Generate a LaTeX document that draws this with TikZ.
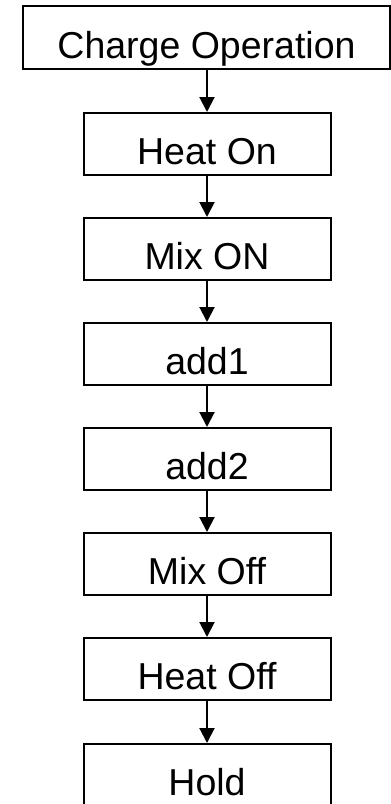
\documentclass[tikz,border=0pt]{standalone}
\usepackage{fontspec}
\setmainfont{Liberation Sans}
\usetikzlibrary{arrows.meta}
\begin{document}
\begin{tikzpicture}[x=1pt,y=-1pt,
  stepbox/.style={draw=black, line width=2pt, inner sep=0pt,
    minimum width=247pt, text height=51pt, text depth=11pt,
    font=\fontsize{37.5}{37.5}\selectfont},
  wide/.style={stepbox, minimum width=367pt, text height=52pt},
  flow/.style={line width=2pt, -{Triangle[length=15pt,width=15pt]}}]
\useasboundingbox (0,0) rectangle (391,804);
\clip (0,0) rectangle (391,804);
\node[wide, anchor=north] (charge) at (206.5,5) {Charge Operation};
\node[stepbox, anchor=north] (heaton) at (207,112) {Heat On};
\node[stepbox, anchor=north] (mixon) at (207,217) {Mix ON};
\node[stepbox, anchor=north] (add1) at (207,322) {add1};
\node[stepbox, anchor=north] (add2) at (207,427) {add2};
\node[stepbox, anchor=north] (mixoff) at (207,532) {Mix Off};
\node[stepbox, anchor=north] (heatoff) at (207,637) {Heat Off};
\node[stepbox, anchor=north] (hold) at (207,743) {Hold};
\draw[flow] (heaton.north |- charge.south) -- (heaton);
\draw[flow] (heaton) -- (mixon);
\draw[flow] (mixon) -- (add1);
\draw[flow] (add1) -- (add2);
\draw[flow] (add2) -- (mixoff);
\draw[flow] (mixoff) -- (heatoff);
\draw[flow] (heatoff) -- (hold);
\end{tikzpicture}
\end{document}
